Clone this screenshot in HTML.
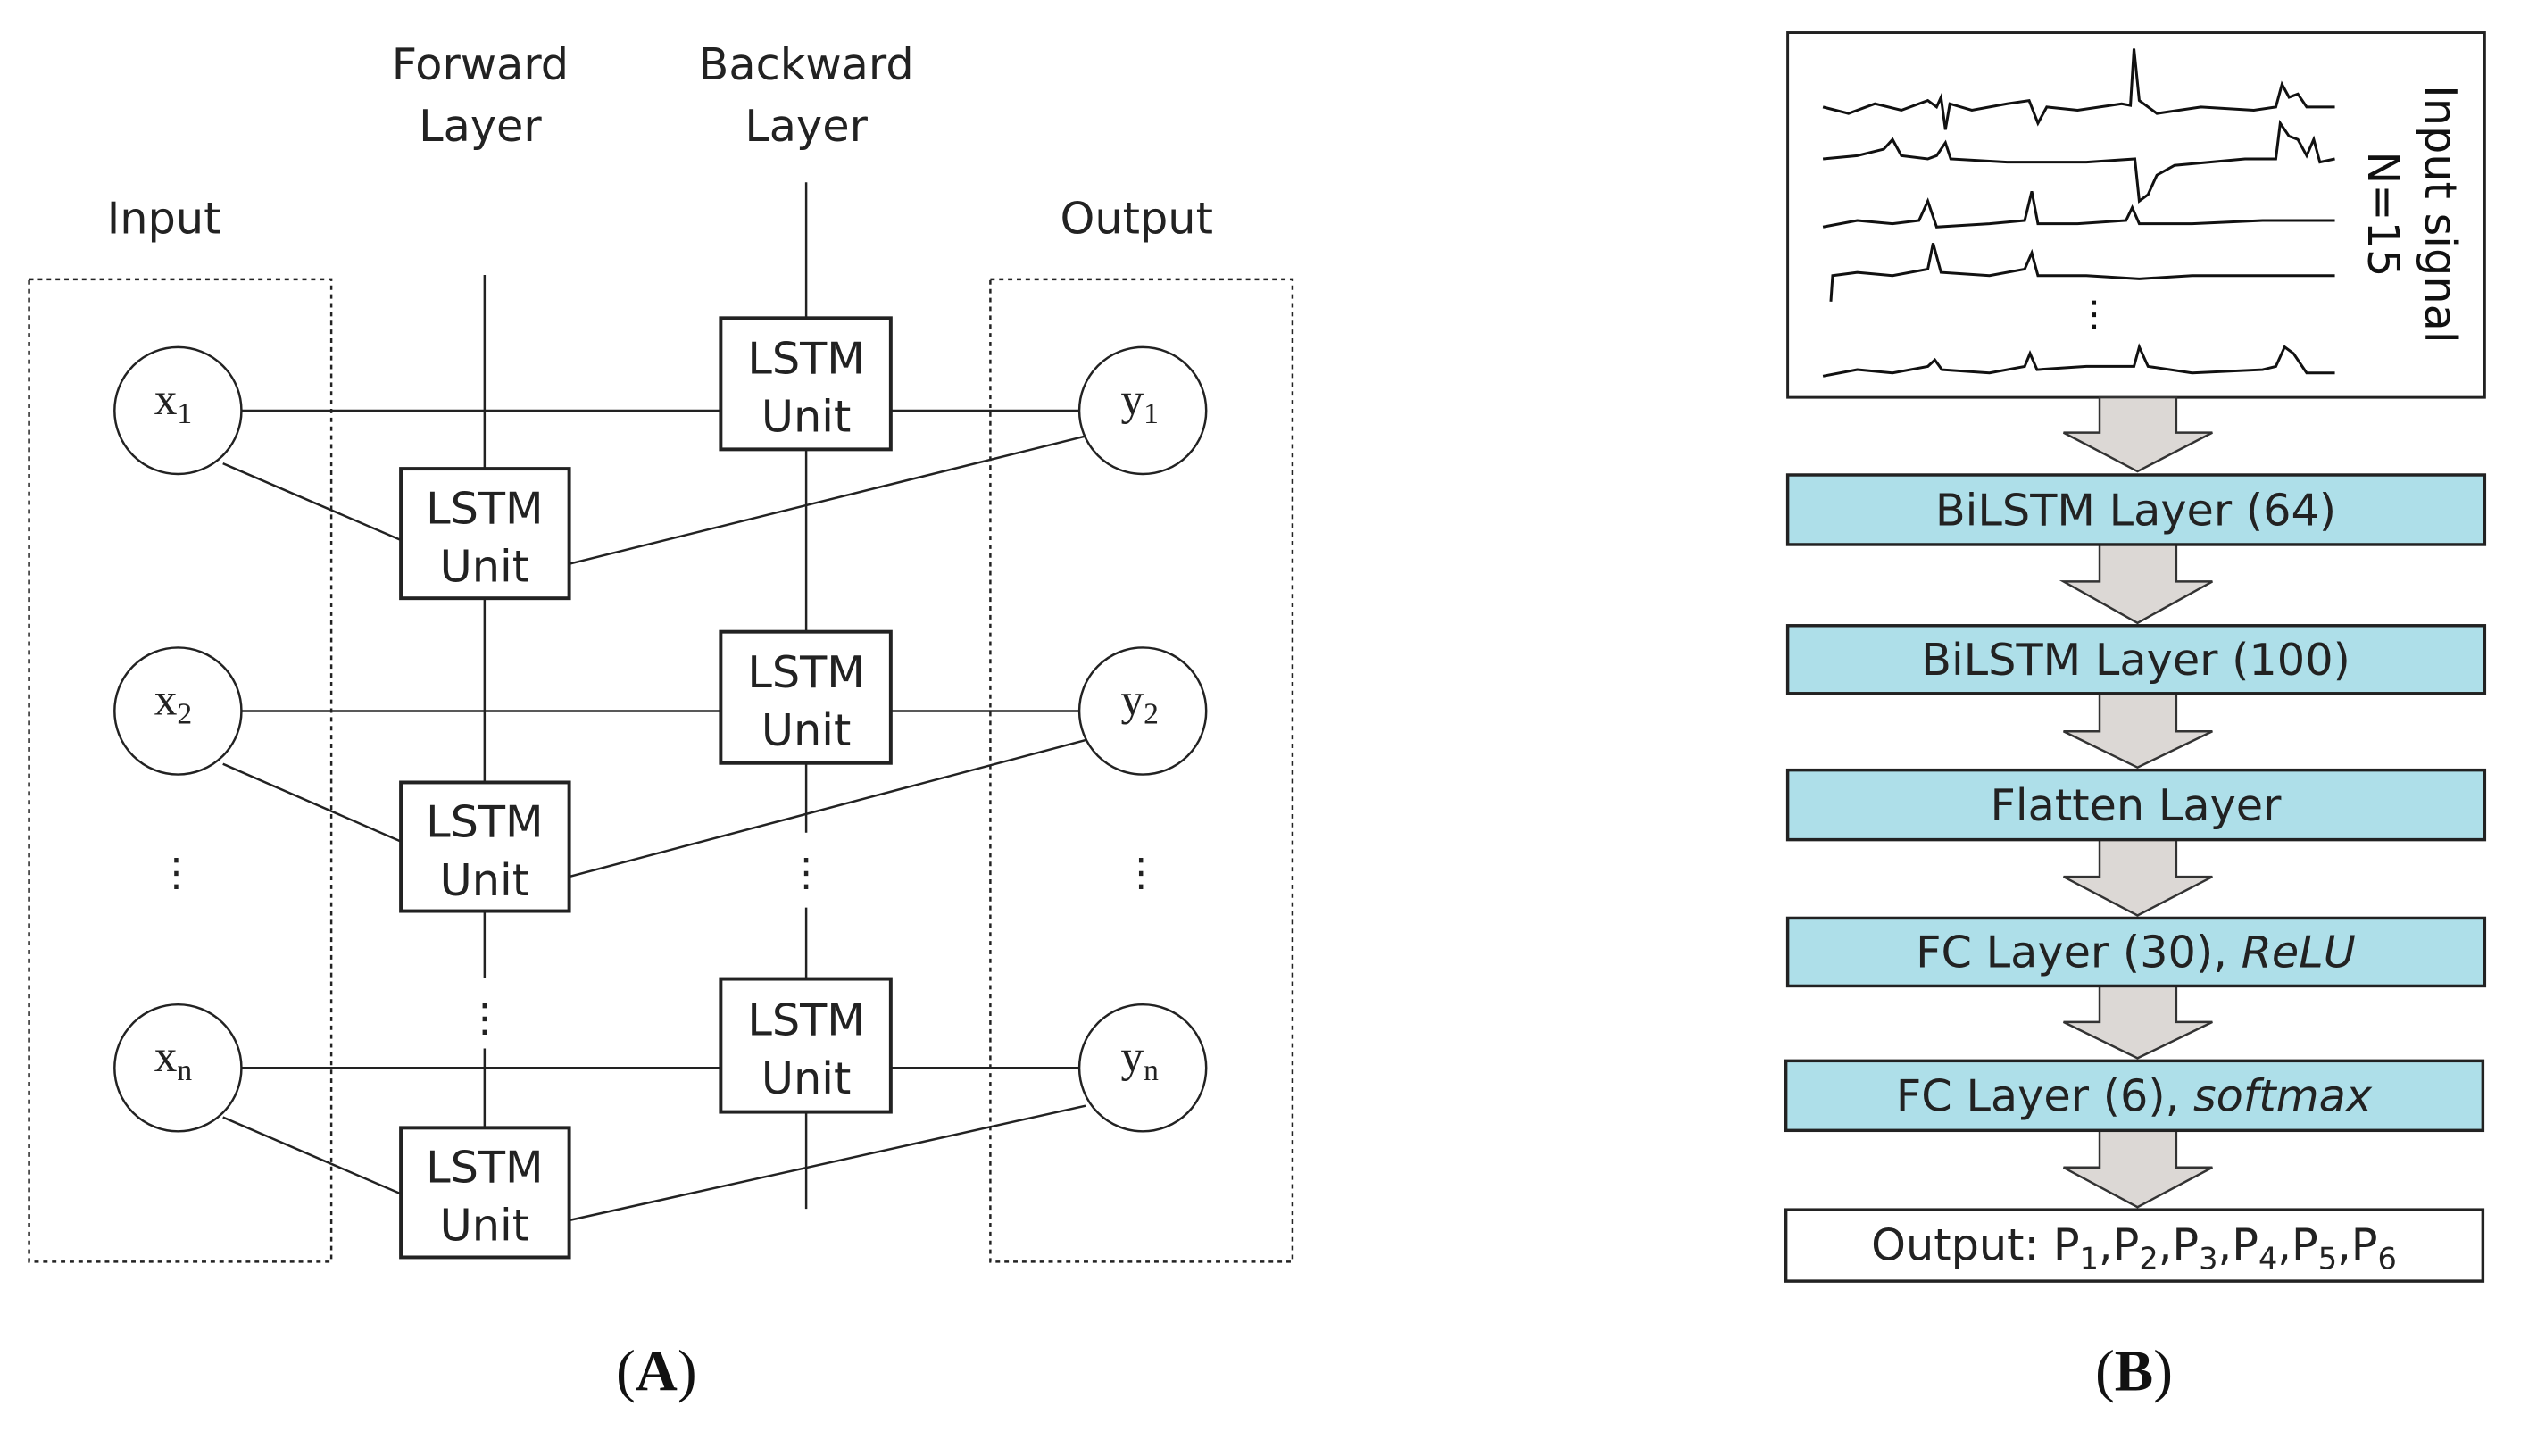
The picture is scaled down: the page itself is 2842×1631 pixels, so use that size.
<!DOCTYPE html>
<html><head><meta charset="utf-8"><style>
html,body{margin:0;padding:0;background:#fff;}
svg{display:block;}
.v{font-family:"DejaVu Sans","Liberation Sans",sans-serif;}
.s{font-family:"Liberation Serif",serif;}
</style></head><body>
<svg width="2842" height="1631" viewBox="0 0 2842 1631" xmlns="http://www.w3.org/2000/svg">
<g transform="scale(0.987)">
<g stroke="#222" stroke-width="2.5" fill="none">
<rect x="33" y="317" width="343" height="1115" stroke-dasharray="5,5"/>
<rect x="1124" y="317" width="343" height="1115" stroke-dasharray="5,5"/>
<line x1="550" y1="312" x2="550" y2="532"/>
<line x1="550" y1="679" x2="550" y2="888"/>
<line x1="550" y1="1034" x2="550" y2="1110"/>
<line x1="550" y1="1190" x2="550" y2="1280"/>
<line x1="915" y1="207" x2="915" y2="361"/>
<line x1="915" y1="510" x2="915" y2="717"/>
<line x1="915" y1="866" x2="915" y2="945"/>
<line x1="915" y1="1030" x2="915" y2="1111"/>
<line x1="915" y1="1262" x2="915" y2="1372"/>
<line x1="274" y1="466" x2="818" y2="466"/><line x1="1011" y1="466" x2="1225" y2="466"/>
<line x1="274" y1="807" x2="818" y2="807"/><line x1="1011" y1="807" x2="1225" y2="807"/>
<line x1="274" y1="1212" x2="818" y2="1212"/><line x1="1011" y1="1212" x2="1225" y2="1212"/>
<line x1="253" y1="526" x2="455" y2="613"/><line x1="646" y1="640" x2="1232" y2="495"/>
<line x1="253" y1="867" x2="455" y2="955"/><line x1="646" y1="995" x2="1232" y2="840"/>
<line x1="253" y1="1268" x2="455" y2="1355"/><line x1="646" y1="1385" x2="1232" y2="1255"/>
<circle cx="202" cy="466" r="72" fill="#fff"/><circle cx="202" cy="807" r="72" fill="#fff"/><circle cx="202" cy="1212" r="72" fill="#fff"/>
<circle cx="1297" cy="466" r="72" fill="#fff"/><circle cx="1297" cy="807" r="72" fill="#fff"/><circle cx="1297" cy="1212" r="72" fill="#fff"/>
<g stroke-width="4" fill="#fff">
<rect x="455" y="532" width="191" height="147"/><rect x="455" y="888" width="191" height="146"/><rect x="455" y="1280" width="191" height="147"/>
<rect x="818" y="361" width="193" height="149"/><rect x="818" y="717" width="193" height="149"/><rect x="818" y="1111" width="193" height="151"/>
</g>
</g>
<g class="v" font-size="50" fill="#222" text-anchor="middle">
<text x="545" y="90">Forward</text><text x="545" y="160">Layer</text>
<text x="915" y="90">Backward</text><text x="915" y="160">Layer</text>
<text x="186" y="265">Input</text><text x="1290" y="265">Output</text>
<text x="550" y="594">LSTM</text><text x="550" y="660">Unit</text>
<text x="550" y="950">LSTM</text><text x="550" y="1016">Unit</text>
<text x="550" y="1342">LSTM</text><text x="550" y="1408">Unit</text>
<text x="915" y="424">LSTM</text><text x="915" y="490">Unit</text>
<text x="915" y="780">LSTM</text><text x="915" y="846">Unit</text>
<text x="915" y="1175">LSTM</text><text x="915" y="1241">Unit</text>
<text x="200" y="1005" font-size="44">⋮</text><text x="1295" y="1005" font-size="44">⋮</text>
<text x="550" y="1170" font-size="44">⋮</text><text x="915" y="1005" font-size="44">⋮</text>
</g>
<g class="s" font-size="52" fill="#222">
<text x="175" y="470">x<tspan font-size="34" dy="10">1</tspan></text>
<text x="175" y="811">x<tspan font-size="34" dy="10">2</tspan></text>
<text x="175" y="1216">x<tspan font-size="34" dy="10">n</tspan></text>
<text x="1272" y="470">y<tspan font-size="34" dy="10">1</tspan></text>
<text x="1272" y="811">y<tspan font-size="34" dy="10">2</tspan></text>
<text x="1272" y="1216">y<tspan font-size="34" dy="10">n</tspan></text>
</g>
<text class="s" x="745" y="1578" font-size="66" text-anchor="middle" fill="#111">(<tspan font-weight="bold">A</tspan>)</text>
<text class="s" x="2422" y="1578" font-size="66" text-anchor="middle" fill="#111">(<tspan font-weight="bold">B</tspan>)</text>
<g transform="translate(28,0)">
<rect x="2001" y="37" width="791" height="414" fill="#fff" stroke="#222" stroke-width="3"/>
<g stroke="#111" stroke-width="3" fill="none" transform="scale(1,1.84)">
<polyline vector-effect="non-scaling-stroke" points="2041,66 2070,70 2100,64 2130,68 2160,62 2170,66 2175,60 2180,80 2185,64 2210,68 2250,64 2275,62 2285,76 2295,66 2330,68 2380,64 2390,65 2394,30 2400,62 2420,70 2470,66 2530,68 2555,66 2562,52 2570,60 2580,58 2590,66 2622,66"/>
<polyline vector-effect="non-scaling-stroke" points="2041,98 2080,96 2110,92 2120,86 2130,96 2160,98 2170,96 2180,88 2186,98 2250,100 2300,100 2340,100 2395,98 2400,124 2410,120 2420,108 2440,102 2520,98 2555,98 2560,76 2570,84 2580,86 2590,96 2598,86 2605,100 2622,98"/>
<polyline vector-effect="non-scaling-stroke" points="2041,140 2080,136 2120,138 2150,136 2160,124 2170,140 2230,138 2270,136 2278,118 2285,138 2330,138 2385,136 2392,128 2400,138 2460,138 2540,136 2622,136"/>
<polyline vector-effect="non-scaling-stroke" points="2050,186 2052,170 2080,168 2120,170 2160,166 2166,150 2175,168 2230,170 2270,166 2278,156 2285,170 2340,170 2400,172 2460,170 2540,170 2622,170"/>
<polyline vector-effect="non-scaling-stroke" points="2041,232 2080,228 2120,230 2160,226 2168,222 2176,228 2230,230 2270,226 2276,218 2284,228 2340,226 2394,226 2400,214 2410,226 2460,230 2540,228 2555,226 2565,214 2575,218 2590,230 2622,230"/>
</g>
<text class="v" x="2349" y="370" font-size="40" text-anchor="middle" fill="#111">⋮</text>
<g class="v" font-size="50" fill="#111" text-anchor="middle">
<text transform="translate(2725,243) rotate(90)">Input signal</text>
<text transform="translate(2660,243) rotate(90)">N=15</text>
</g>
<g fill="#dcd8d5" stroke="#333" stroke-width="2.5">
<polygon points="2355,451 2442,451 2442,491 2483,491 2398,535 2314,491 2355,491"/>
<polygon points="2355,618 2442,618 2442,660 2483,660 2398,707 2314,660 2355,660"/>
<polygon points="2355,787 2442,787 2442,830 2483,830 2398,871 2314,830 2355,830"/>
<polygon points="2355,953 2442,953 2442,995 2483,995 2398,1039 2314,995 2355,995"/>
<polygon points="2355,1119 2442,1119 2442,1160 2483,1160 2398,1201 2314,1160 2355,1160"/>
<polygon points="2355,1283 2442,1283 2442,1325 2483,1325 2398,1370 2314,1325 2355,1325"/>
</g>
<g fill="#aedfe9" stroke="#222" stroke-width="3.5">
<rect x="2001" y="539" width="791" height="79"/>
<rect x="2001" y="710" width="791" height="77"/>
<rect x="2001" y="874" width="791" height="79"/>
<rect x="2001" y="1042" width="791" height="77"/>
<rect x="1999" y="1204" width="791" height="79"/>
</g>
<rect x="1999" y="1373" width="791" height="81" fill="#fff" stroke="#222" stroke-width="3.5"/>
<g class="v" font-size="50" fill="#222" text-anchor="middle">
<text x="2396" y="596">BiLSTM Layer (64)</text>
<text x="2396" y="766">BiLSTM Layer (100)</text>
<text x="2396" y="931">Flatten Layer</text>
<text x="2396" y="1098">FC Layer (30), <tspan font-style="italic">ReLU</tspan></text>
<text x="2394" y="1261">FC Layer (6), <tspan font-style="italic">softmax</tspan></text>
<text x="2394" y="1430">Output: P<tspan font-size="34" dy="10">1</tspan><tspan dy="-10">,P</tspan><tspan font-size="34" dy="10">2</tspan><tspan dy="-10">,P</tspan><tspan font-size="34" dy="10">3</tspan><tspan dy="-10">,P</tspan><tspan font-size="34" dy="10">4</tspan><tspan dy="-10">,P</tspan><tspan font-size="34" dy="10">5</tspan><tspan dy="-10">,P</tspan><tspan font-size="34" dy="10">6</tspan></text>
</g>
</g>
</g>
</svg>
</body></html>
